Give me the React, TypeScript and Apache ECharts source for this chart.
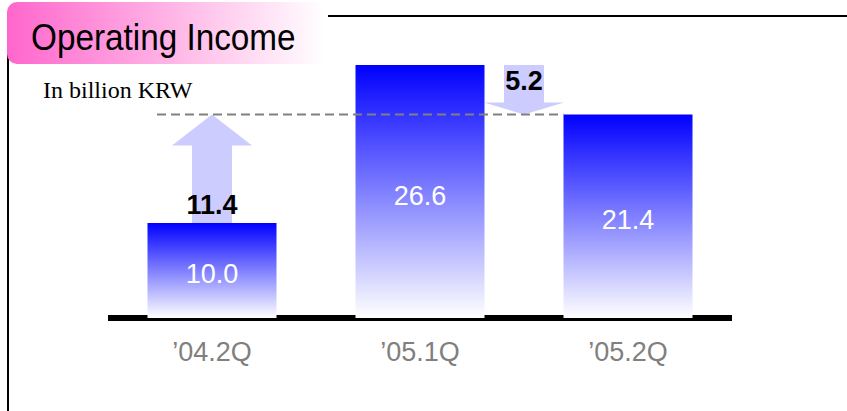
import React, { useEffect, useRef } from "react";
import * as echarts from "echarts";

// ---- data ----
const categories = ["\u201904.2Q", "\u201905.1Q", "\u201905.2Q"];
const operatingIncome = [10.0, 26.6, 21.4];
// change arrows: placed between bars xFrom/xTo (same index = on that bar), from value of fromBar to value of toBar
const changeArrows = [
  { xFrom: 0, xTo: 0, fromBar: 0, toBar: 2 },
  { xFrom: 1, xTo: 2, fromBar: 1, toBar: 2 },
];
const referenceBar = 2;
const titleText = "Operating Income";
const unitText = "In billion KRW";

const BAR_W = 129;
const FONT = "'Liberation Sans', Arial, sans-serif";

export default function App() {
  const ref = useRef<HTMLDivElement>(null);
  useEffect(() => {
    if (!ref.current) return;
    const chart = echarts.init(ref.current, undefined, { renderer: "svg" });

    const arrowData = changeArrows.map((a) => [
      a.xFrom,
      a.xTo,
      operatingIncome[a.fromBar],
      operatingIncome[a.toBar],
    ]);

    const option: any = {
      animation: false,
      backgroundColor: "#ffffff",
      grid: { left: 108, right: 115, top: 65, bottom: 93 },
      xAxis: {
        type: "category",
        data: categories,
        offset: 3,
        axisLine: { lineStyle: { color: "#000000", width: 6, cap: "butt" } },
        axisTick: { show: false },
        axisLabel: { color: "#808080", fontSize: 27, margin: 17, fontFamily: FONT },
      },
      yAxis: {
        type: "value",
        min: 0,
        max: 26.6,
        show: false,
        splitLine: { show: false },
      },
      graphic: [
        { type: "line", shape: { x1: 8, y1: 14, x2: 8, y2: 411 }, style: { stroke: "#000", lineWidth: 2 }, z: 1 },
        { type: "line", shape: { x1: 328, y1: 16, x2: 847, y2: 16 }, style: { stroke: "#000", lineWidth: 2 }, z: 1 },
        {
          type: "rect",
          shape: { x: 7, y: 2, width: 318, height: 62, r: 10 },
          style: {
            fill: new echarts.graphic.LinearGradient(0, 0, 1, 0, [
              { offset: 0, color: "#FF66CC" },
              { offset: 1, color: "#FFFFFF" },
            ]),
          },
          z: 2,
        },
        {
          type: "text",
          x: 31,
          y: 37,
          scaleX: 0.9,
          style: {
            text: titleText,
            font: `37px ${FONT}`,
            fill: "#000",
            textVerticalAlign: "middle",
          },
          z: 3,
        },
        {
          type: "text",
          x: 43,
          y: 90,
          style: {
            text: unitText,
            font: "24px 'Liberation Serif', 'Times New Roman', serif",
            fill: "#000",
            textVerticalAlign: "middle",
          },
          z: 3,
        },
      ],
      series: [
        {
          type: "bar",
          data: operatingIncome,
          barWidth: BAR_W,
          itemStyle: {
            color: new echarts.graphic.LinearGradient(0, 0, 0, 1, [
              { offset: 0, color: "#0000FF" },
              { offset: 1, color: "#FFFFFF" },
            ]),
          },
          label: {
            show: true,
            position: "inside",
            offset: [0, 4],
            color: "#FFFFFF",
            fontSize: 27,
            fontFamily: FONT,
            formatter: (p: any) => Number(p.value).toFixed(1),
          },
          z: 2,
        },
        {
          type: "custom",
          data: arrowData,
          z: 3,
          renderItem: (params: any, api: any) => {
            const xa = api.value(0);
            const xb = api.value(1);
            const vFrom = api.value(2);
            const vTo = api.value(3);
            const pa = api.coord([xa, vFrom]);
            const pb = api.coord([xb, vFrom]);
            const cx = (pa[0] + pb[0]) / 2;
            const yFrom = pa[1];
            const yTo = api.coord([xa, vTo])[1];
            const up = vTo > vFrom;
            const shaftHalf = 20;
            const headHalf = 40;
            const headH = up ? 31 : 12;
            const dir = up ? 1 : -1;
            const yBase = yTo + dir * headH;
            const pts = [
              [cx - shaftHalf, yFrom],
              [cx - shaftHalf, yBase],
              [cx - headHalf, yBase],
              [cx, yTo],
              [cx + headHalf, yBase],
              [cx + shaftHalf, yBase],
              [cx + shaftHalf, yFrom],
            ];
            const delta = Math.abs(vTo - vFrom).toFixed(1);
            const labelY = up ? yFrom - 18 : yFrom + 16;
            return {
              type: "group",
              children: [
                { type: "polygon", shape: { points: pts }, style: { fill: "#CCCCFF" } },
                {
                  type: "text",
                  x: cx,
                  y: labelY,
                  style: {
                    text: delta,
                    font: `bold 27px ${FONT}`,
                    fill: "#000",
                    textAlign: "center",
                    textVerticalAlign: "middle",
                  },
                },
              ],
            };
          },
        },
        {
          type: "custom",
          data: [[0, referenceBar, operatingIncome[referenceBar]]],
          z: 4,
          renderItem: (params: any, api: any) => {
            const p0 = api.coord([api.value(0), api.value(2)]);
            const p1 = api.coord([api.value(1), api.value(2)]);
            return {
              type: "line",
              shape: { x1: p0[0] - 55, y1: p0[1], x2: p1[0] - BAR_W / 2, y2: p1[1] },
              style: { stroke: "#808080", lineWidth: 2, lineDash: [9, 5] },
            };
          },
        },
      ],
    };
    chart.setOption(option);
    return () => chart.dispose();
  }, []);
  return (
    <div
      ref={ref}
      style={{ position: "fixed", left: 0, top: 0, width: 847, height: 411 }}
    />
  );
}
